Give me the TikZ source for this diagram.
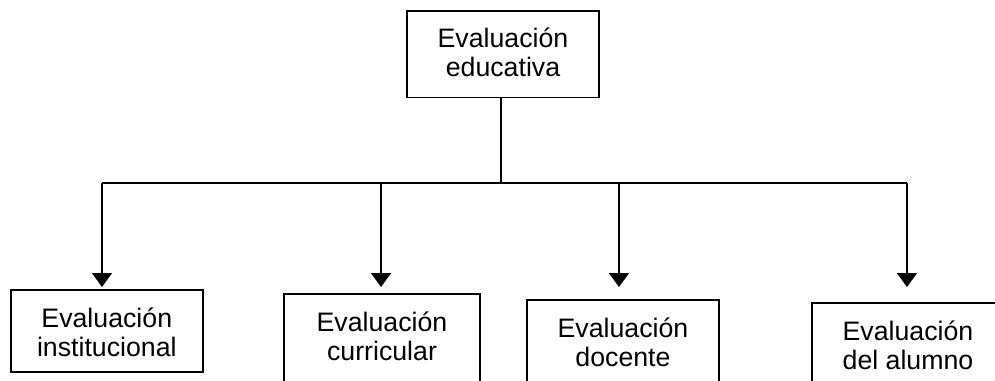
\documentclass[tikz,border=0pt]{standalone}
\usepackage{fontspec}
\setmainfont{Liberation Sans}
\usetikzlibrary{arrows.meta}

\tikzset{
  evbox/.style={draw, line width=1.1pt, anchor=north, align=center,
    minimum width=4.8cm, inner xsep=0pt, inner ysep=0.25cm, text height=1.425cm,
    font=\fontsize{19}{20.6}\selectfont},
  evline/.style={line width=1.1pt},
  evarrow/.style={line width=1.1pt, -{Triangle[width=0.5cm,length=0.35cm]}}
}

\begin{document}
\begin{tikzpicture}
                \useasboundingbox (0,0) rectangle (24.875,-9.525);
                % root
                \node[evbox, text height=1.39cm, text depth=0.275cm] (edu) at (12.575,-0.25) {Evaluación\\educativa};

                % the four kinds
                \node[evbox, text depth=0.125cm] (inst) at (2.67,-7.225) {Evaluación\\institucional};
                \node[evbox, minimum width=4.9cm, text depth=1.5cm] (curr) at (9.55,-7.325) {Evaluación\\curricular};
                \node[evbox, text depth=1.5cm] (doc) at (15.575,-7.475) {Evaluación\\docente};
                \node[evbox, text depth=1.5cm] (alum) at (22.7,-7.55) {Evaluación\\del alumno};

                \coordinate (top) at (12.525,-4.575);
                \coordinate (d1) at (2.55,-4.575);
                \coordinate (d2) at (9.525,-4.575);
                \coordinate (d3) at (15.475,-4.575);
                \coordinate (d4) at (22.675,-4.575);

                \draw[evline] (edu.south -| top) -- (top);
                \draw[evline] (d1) -- (d4);
                \foreach \d/\b/\g in {d1/inst/0.05, d2/curr/0.15, d3/doc/0.3, d4/alum/0.375}
                    \draw[evarrow, shorten >=\g cm] (\d) -- (\d |- \b.north);
            \end{tikzpicture}
\end{document}
